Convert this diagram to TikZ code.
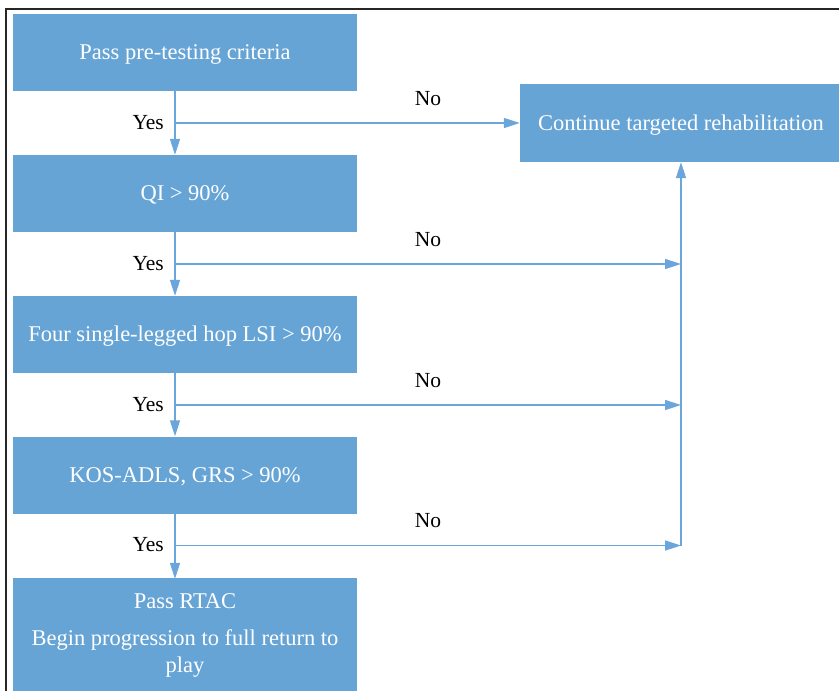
\documentclass[tikz,border=0pt]{standalone}
\usepackage{fontspec}
\setmainfont{Liberation Serif}
\usetikzlibrary{arrows.meta}
\definecolor{boxblue}{RGB}{103,164,214}
\definecolor{lineblue}{RGB}{106,166,219}
\begin{document}
\begin{tikzpicture}[x=1pt,y=-1pt,
  box/.style={fill=boxblue, draw=none, text=white, font=\fontsize{22.5}{27}\selectfont,
    minimum width=344pt, minimum height=77pt, inner sep=0pt, align=center},
  oneline/.style={text height=17pt, text depth=3pt},
  conn/.style={draw=lineblue, line width=1.5pt},
  arr/.style={conn, -{Triangle[length=16pt,width=10pt]}},
  lab/.style={font=\fontsize{21.5}{24}\selectfont, inner sep=0pt, text=black}]
\useasboundingbox (0,0) rectangle (839,691);
\draw[line width=2.4pt, draw=black!85] (6,9) rectangle (850,705);
% boxes
\node[box, oneline] (b1) at (185,52.5) {Pass pre-testing criteria};
\node[box, oneline] (b2) at (185,193.5) {QI > 90\%};
\node[box, oneline] (b3) at (185,334.5) {Four single-legged hop LSI > 90\%};
\node[box, oneline] (b4) at (185,475) {KOS-ADLS, GRS > 90\%};
\node[box, minimum height=114pt] (b5) at (185,635) {Pass RTAC\\[10pt]Begin progression to full return to\\play};
\node[box, oneline, minimum width=322pt, minimum height=78pt] (rb) at (681,123) {Continue targeted rehabilitation};
% junctions
\coordinate (v) at (175,0);
\coordinate (y1) at (175,123);
\coordinate (y2) at (175,264);
\coordinate (y3) at (175,405);
\coordinate (y4) at (175,545.5);
\coordinate (j2) at (681,264);
\coordinate (j3) at (681,405);
\coordinate (j4) at (681,545.5);
% vertical yes arrows
\draw[arr] (b1.south -| v) -- (b2.north -| v);
\draw[arr] (b2.south -| v) -- (b3.north -| v);
\draw[arr] (b3.south -| v) -- (b4.north -| v);
\draw[arr] (b4.south -| v) -- ([yshift=-1pt]b5.north -| v);
% no branches
\draw[arr] (y1) -- (rb.west);
\draw[arr] (y2) -- (j2);
\draw[arr] (y3) -- (j3);
\draw[arr] (y4) -- (j4);
\draw[arr] (j4) -- (rb.south);
% labels
\node[lab, anchor=east] (yes1) at (164,122.5) {Yes};
\node[lab, anchor=east] (yes2) at (164,263.5) {Yes};
\node[lab, anchor=east] (yes3) at (164,404.5) {Yes};
\node[lab, anchor=east] (yes4) at (164,545) {Yes};
\node[lab] (no1) at (428,98.5) {No};
\node[lab] (no2) at (428,239.5) {No};
\node[lab] (no3) at (428,380.5) {No};
\node[lab] (no4) at (428,521) {No};
\end{tikzpicture}
\end{document}
